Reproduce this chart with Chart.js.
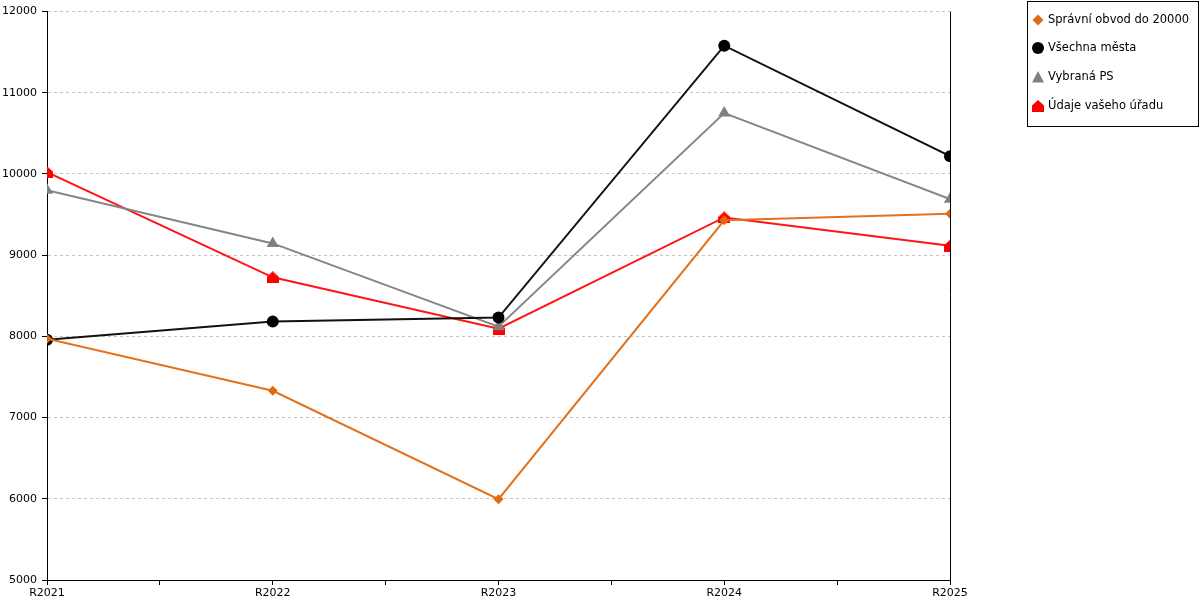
<!DOCTYPE html>
<html>
<head>
<meta charset="utf-8">
<script src="https://cdn.jsdelivr.net/npm/chart.js@4/dist/chart.umd.min.js"></script>
<style>
html,body{margin:0;padding:0;background:#fff;}
#wrap{width:1200px;height:600px;position:relative;}
</style>
</head>
<body>
<div id="wrap"><canvas id="c" width="1200" height="600"></canvas></div>
<script>
const categories = ['R2021', 'R2022', 'R2023', 'R2024', 'R2025'];
const spravniObvod = [7970, 7330, 5995, 9430, 9510];
const vsechnaMesta = [7960, 8182, 8232, 11580, 10220];
const vybranaPS = [9800, 9145, 8120, 10750, 9690];
const udajeUradu = [10023, 8728, 8095, 9465, 9115];
const seriesNames = ['Správní obvod do 20000', 'Všechna města', 'Vybraná PS', 'Údaje vašeho úřadu'];
const yTicks = [5000, 6000, 7000, 8000, 9000, 10000, 11000, 12000];

function houseImage(color, w, h) {
  const cv = document.createElement('canvas');
  cv.width = w; cv.height = h;
  const g = cv.getContext('2d');
  g.fillStyle = color;
  g.beginPath();
  g.moveTo(0, h);
  g.lineTo(w, h);
  g.lineTo(w, h * 0.45);
  g.lineTo(w / 2, 0);
  g.lineTo(0, h * 0.45);
  g.closePath();
  g.fill();
  return cv;
}
const house = houseImage('#ff0000', 12, 12);

const colors = ['#e2721e', '#111111', '#858585', '#ff1414'];
const markerColors = ['#e06a12', '#000000', '#808080', '#ff0000'];
const styles = ['rectRot', 'circle', 'triangle', house];
const radii = [5, 6, 7, 6];
const allSeries = [spravniObvod, vsechnaMesta, vybranaPS, udajeUradu];

const datasets = allSeries.map((vals, k) => ({
  label: seriesNames[k],
  data: vals.map((v, i) => ({ x: i, y: v })),
  borderColor: colors[k],
  backgroundColor: markerColors[k],
  pointBackgroundColor: markerColors[k],
  pointBorderColor: markerColors[k],
  pointBorderWidth: 0,
  pointStyle: styles[k],
  pointRadius: radii[k],
  pointHoverRadius: radii[k],
  borderWidth: 2,
  tension: 0,
  fill: false
}));

const frame = {
  id: 'frame',
  afterDraw(chart) {
    const ctx = chart.ctx;
    const a = chart.chartArea;
    ctx.save();
    ctx.strokeStyle = '#000';
    ctx.lineWidth = 1;
    ctx.beginPath();
    ctx.moveTo(Math.round(a.right) + 0.5, a.top);
    ctx.lineTo(Math.round(a.right) + 0.5, a.bottom);
    ctx.stroke();

    // legend box
    ctx.strokeRect(1027.5, 1.5, 171, 125);
    ctx.font = "11.5px 'DejaVu Sans'";
    ctx.textBaseline = 'middle';
    ctx.textAlign = 'left';
    const ys = [20, 48, 77, 106];
    chart.data.datasets.forEach((ds, k) => {
      const y = ys[k];
      const x = 1038;
      ctx.fillStyle = markerColors[k];
      ctx.beginPath();
      if (k === 0) {
        ctx.moveTo(x, y - 5.5); ctx.lineTo(x + 5.5, y); ctx.lineTo(x, y + 5.5); ctx.lineTo(x - 5.5, y); ctx.closePath(); ctx.fill();
      } else if (k === 1) {
        ctx.arc(x, y, 6, 0, Math.PI * 2); ctx.fill();
      } else if (k === 2) {
        ctx.moveTo(x, y - 6); ctx.lineTo(x + 6, y + 5.5); ctx.lineTo(x - 6, y + 5.5); ctx.closePath(); ctx.fill();
      } else {
        ctx.drawImage(house, x - 6, y - 6);
      }
      ctx.fillStyle = '#000';
      ctx.fillText(ds.label, 1048, y + 0.5);
    });
    ctx.restore();
  }
};

new Chart(document.getElementById('c'), {
  type: 'line',
  data: { datasets },
  options: {
    responsive: false,
    animation: false,
    devicePixelRatio: 1,
    layout: { padding: { top: 10, right: 250, left: 0, bottom: 0 } },
    plugins: { legend: { display: false }, tooltip: { enabled: false } },
    scales: {
      x: {
        type: 'linear',
        min: 0,
        max: categories.length - 1,
        afterFit(s) { s.height = 20; },
        afterBuildTicks(s) {
          const t = [];
          for (let v = 0; v <= categories.length - 1; v += 0.5) t.push({ value: v });
          s.ticks = t;
        },
        ticks: {
          autoSkip: false,
          maxRotation: 0,
          padding: 2,
          color: '#000',
          font: { family: "'DejaVu Sans'", size: 11 },
          callback: (v) => Number.isInteger(v) ? categories[v] : ''
        },
        grid: { drawOnChartArea: false, tickLength: 5, tickColor: '#000', color: '#000' },
        border: { display: true, color: '#000', width: 1 }
      },
      y: {
        min: yTicks[0],
        max: yTicks[yTicks.length - 1],
        afterFit(s) { s.width = 47; },
        afterBuildTicks(s) { s.ticks = yTicks.map(v => ({ value: v })); },
        ticks: {
          padding: 5,
          color: '#000',
          font: { family: "'DejaVu Sans'", size: 11 },
          callback: (v) => String(v)
        },
        grid: { color: '#c4c4c4', tickColor: '#000', tickLength: 5, borderDash: [3, 3], tickBorderDash: [] },
        border: { display: true, color: '#000', width: 1, dash: [3, 3] }
      }
    }
  },
  plugins: [frame]
});
</script>
</body>
</html>
